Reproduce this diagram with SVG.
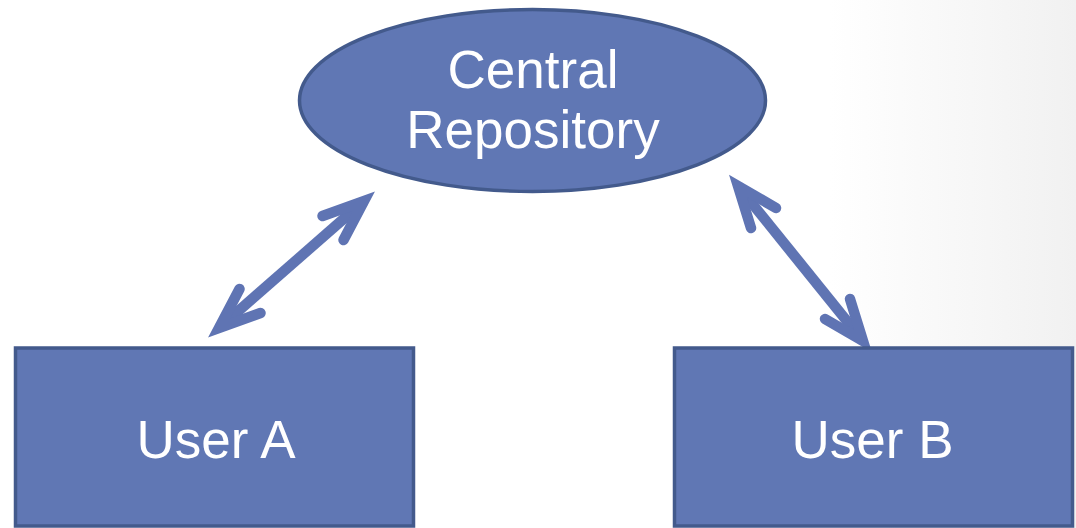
<svg xmlns="http://www.w3.org/2000/svg" width="1076" height="528" viewBox="0 0 1076 528">
  <defs>
    <linearGradient id="bg" x1="0" y1="0" x2="1" y2="0" gradientUnits="objectBoundingBox">
      <stop offset="0" stop-color="#ffffff"/>
      <stop offset="1" stop-color="#f1f1f1"/>
    </linearGradient>
    <style>
      .node { fill: #6077b4; stroke: #435a8c; stroke-width: 3.5; }
      .label { font-family: "Liberation Sans", Arial, sans-serif; font-size: 53px; fill: #ffffff; text-anchor: middle; }
      .conn { fill: none; stroke: #5f74b3; stroke-width: 10.5; }
      .head { fill: none; stroke: #5f74b3; stroke-width: 10.5; stroke-linecap: round; stroke-linejoin: miter; stroke-miterlimit: 10; }
    </style>
  </defs>
  <rect x="0" y="0" width="1076" height="528" fill="#ffffff"/>
  <rect x="830" y="0" width="246" height="528" fill="url(#bg)"/>

  <g id="connectors">
    <g id="conn-userA-repo">
      <line class="conn" x1="219" y1="328" x2="364" y2="201"/>
      <polyline class="head" points="322.5,216 364,201 343.5,240"/>
      <polyline class="head" points="260.5,313 219,328 239.5,289"/>
    </g>
    <g id="conn-repo-userB">
      <line class="conn" x1="738" y1="186" x2="863" y2="341"/>
      <polyline class="head" points="751,228 738,186 776,208"/>
      <polyline class="head" points="850,299 863,341 825,319"/>
    </g>
  </g>

  <g id="central-repository">
    <ellipse class="node" cx="532.5" cy="100.5" rx="233" ry="91"/>
    <text class="label" x="533" y="88">Central</text>
    <text class="label" x="533" y="148">Repository</text>
  </g>

  <g id="user-a">
    <rect class="node" x="15.5" y="348" width="398" height="178"/>
    <text class="label" x="216" y="458">User A</text>
  </g>

  <g id="user-b">
    <rect class="node" x="674.5" y="348" width="398" height="178"/>
    <text class="label" x="872.5" y="458">User B</text>
  </g>
</svg>
